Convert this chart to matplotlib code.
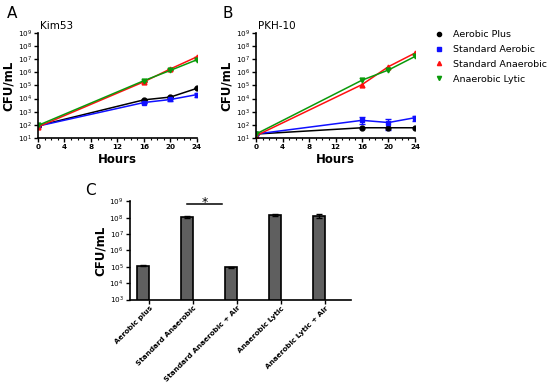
import numpy as np
import matplotlib
matplotlib.use("Agg")
import matplotlib.pyplot as plt
from matplotlib.ticker import FixedLocator, MultipleLocator

hours = [0, 16, 20, 24]
series_names = ["Aerobic Plus", "Standard Aerobic", "Standard Anaerobic", "Anaerobic Lytic"]
kim_aerobic_plus = [85, 8000, 1.3e4, 6e4]
kim_std_aerobic = [80, 5000, 8500, 2e4]
kim_std_anaerobic = [70, 1.9e5, 1.8e6, 1.5e7]
kim_anaerobic_lytic = [90, 2.3e5, 1.4e6, 9e6]
kim_err_lo = [[0, 0, 0, 0], [0, 0, 1500, 6000], [0, 0, 0, 0], [0, 0, 0, 0]]
kim_err_hi = [[0, 0, 0, 0], [0, 0, 1500, 8000], [0, 0, 0, 0], [0, 0, 0, 0]]

pkh_aerobic_plus = [20, 60, 60, 60]
pkh_std_aerobic = [20, 220, 150, 350]
pkh_std_anaerobic = [15, 1.15e5, 2.7e6, 2.9e7]
pkh_anaerobic_lytic = [20, 2.5e5, 1.5e6, 1.6e7]
pkh_blue_lo = [0, 100, 110, 150]
pkh_blue_hi = [0, 150, 150, 150]

bar_labels = ["Aerobic plus", "Standard Anaerobic", "Standard Anaerobic + Air",
              "Anaerobic Lytic", "Anaerobic Lytic + Air"]
bar_values = [1.2e5, 1.1e8, 0.95e5, 1.5e8, 1.3e8]
bar_err = [1.5e4, 1.0e7, 5e3, 1.5e7, 3.5e7]

colors = ["black", "#1010ff", "#ff1010", "#0a9a0a"]
markers = ["o", "s", "^", "v"]

fig = plt.figure(figsize=(5.5, 3.85), dpi=100)
fs_tick = 5.2


def style_line_axes(ax):
    ax.set_yscale("log")
    ax.set_ylim(10, 1e9)
    ax.set_xlim(0, 24)
    ax.set_xticks([0, 4, 8, 12, 16, 20, 24])
    ax.xaxis.set_minor_locator(MultipleLocator(1))
    ax.yaxis.set_major_locator(FixedLocator([10.0 ** k for k in range(1, 10)]))
    ax.yaxis.set_minor_locator(FixedLocator([]))
    ax.set_yticklabels([r"$10^{%d}$" % k for k in range(1, 10)])
    for s in ["top", "right"]:
        ax.spines[s].set_visible(False)
    for s in ["left", "bottom"]:
        ax.spines[s].set_linewidth(1.2)
    ax.tick_params(axis="both", which="major", labelsize=fs_tick, length=3, width=1, pad=1.5)
    ax.tick_params(axis="x", which="minor", length=1.5, width=0.8)
    for lab in ax.get_xticklabels():
        lab.set_fontweight("bold")
    ax.set_xlabel("Hours", fontsize=8.5, fontweight="bold", labelpad=2)
    ax.set_ylabel("CFU/mL", fontsize=8.5, fontweight="bold", labelpad=2)


axA = fig.add_axes([0.069, 0.6416, 0.289, 0.273])
kim = [kim_aerobic_plus, kim_std_aerobic, kim_std_anaerobic, kim_anaerobic_lytic]
for i, ys in enumerate(kim):
    axA.errorbar(hours, ys, yerr=[kim_err_lo[i], kim_err_hi[i]], color=colors[i],
                 marker=markers[i], ms=3.5, lw=1.1, capsize=2, elinewidth=1,
                 label=series_names[i])
style_line_axes(axA)
axA.text(0.01, 1.07, "Kim53", transform=axA.transAxes, fontsize=7.5, va="center")
fig.text(0.012, 0.965, "A", fontsize=11, va="center")

axB = fig.add_axes([0.4655, 0.6416, 0.289, 0.273])
pkh = [pkh_aerobic_plus, pkh_std_aerobic, pkh_std_anaerobic, pkh_anaerobic_lytic]
for i, ys in enumerate(pkh):
    yerr = [pkh_blue_lo, pkh_blue_hi] if i == 1 else None
    axB.errorbar(hours, ys, yerr=yerr, color=colors[i], marker=markers[i], ms=3.5,
                 lw=1.1, capsize=2, elinewidth=1, label=series_names[i])
style_line_axes(axB)
axB.text(0.01, 1.07, "PKH-10", transform=axB.transAxes, fontsize=7.5, va="center")
fig.text(0.405, 0.965, "B", fontsize=11, va="center")

leg_handles = [plt.Line2D([], [], color=colors[i], marker=markers[i], ls="none", ms=3)
               for i in range(4)]
fig.legend(leg_handles, series_names, loc="upper left", bbox_to_anchor=(0.785, 0.932),
           frameon=False, fontsize=6.8, handlelength=0.8, handletextpad=1.0,
           labelspacing=0.62, borderaxespad=0)

axC = fig.add_axes([0.236, 0.222, 0.402, 0.255])
xpos = np.arange(len(bar_values))
axC.bar(xpos, bar_values, width=0.27, color="#5f5f5f", edgecolor="black", linewidth=1.2,
        yerr=bar_err, capsize=2.5, error_kw=dict(elinewidth=1, capthick=1), zorder=2)
axC.set_yscale("log")
axC.set_ylim(1e3, 1e9)
axC.set_xlim(-0.295, 4.727)
axC.yaxis.set_major_locator(FixedLocator([10.0 ** k for k in range(3, 10)]))
axC.yaxis.set_minor_locator(FixedLocator([]))
axC.set_yticklabels([r"$10^{%d}$" % k for k in range(3, 10)])
axC.set_xticks(xpos + 0.15)
axC.set_xticklabels(bar_labels, rotation=45, ha="right", rotation_mode="anchor",
                    fontsize=4.5, fontweight="bold")
for s in ["top", "right"]:
    axC.spines[s].set_visible(False)
for s in ["left", "bottom"]:
    axC.spines[s].set_linewidth(1.2)
axC.tick_params(axis="both", labelsize=fs_tick, length=3, width=1, pad=1.5)
axC.tick_params(axis="x", pad=1)
axC.set_ylabel("CFU/mL", fontsize=8.5, fontweight="bold", labelpad=2)
axC.plot([1.0, 1.8], [6.5e8, 6.5e8], color="black", lw=1.1, clip_on=False)
axC.text(1.4, 8.0e8, "*", ha="center", va="center", fontsize=9)
fig.text(0.155, 0.505, "C", fontsize=11, va="center")

fig.savefig("out.png", dpi=100)
